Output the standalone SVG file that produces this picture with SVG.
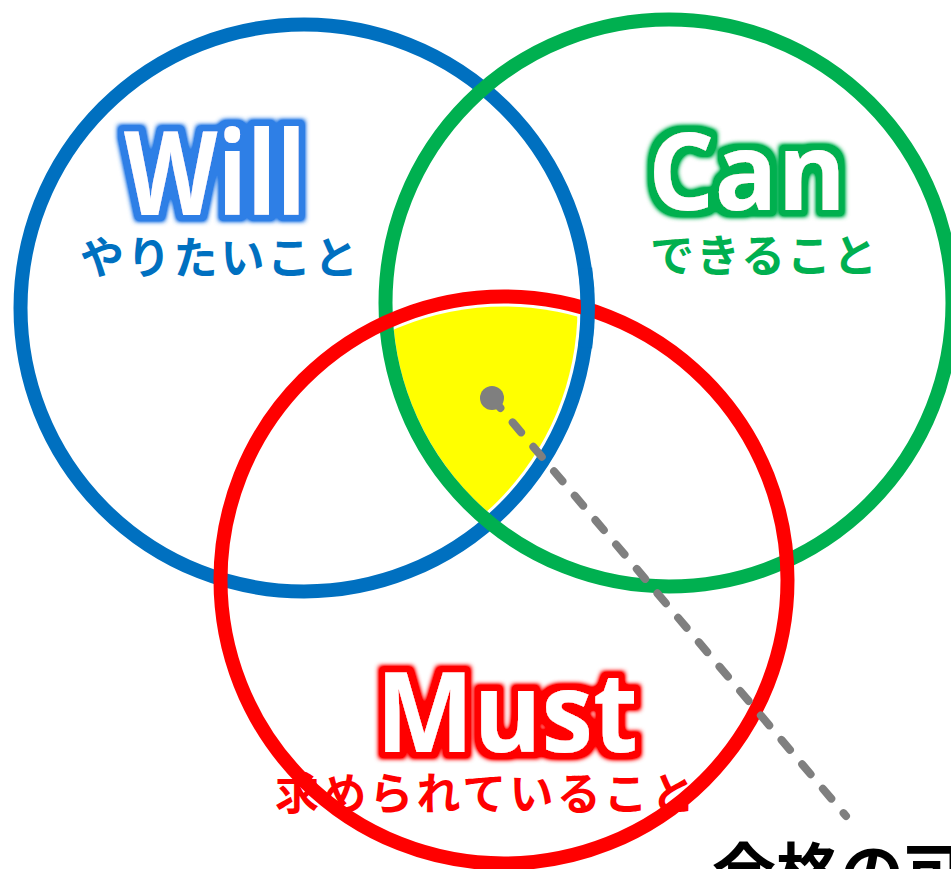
<svg xmlns="http://www.w3.org/2000/svg" width="951" height="869" viewBox="0 0 951 869">
<style>
.ring{fill:none;stroke-width:14}
.big{font-family:"Open Sans","Liberation Sans",sans-serif;font-weight:700;fill:#FFFFFF}
.jp{font-family:"Noto Sans CJK JP","Noto Sans",sans-serif;font-weight:700}
</style>
<defs>
<clipPath id="cB"><circle cx="304" cy="308" r="273.5"/></clipPath>
<clipPath id="cG"><circle cx="669" cy="303" r="276.5"/></clipPath>
<clipPath id="cR"><circle cx="504" cy="580" r="273.5"/></clipPath>
<filter id="glowB" x="-20%" y="-40%" width="140%" height="180%">
<feMorphology in="SourceAlpha" operator="dilate" radius="6" result="d"/>
<feGaussianBlur in="d" stdDeviation="2.5" result="b"/>
<feComponentTransfer in="b" result="b2"><feFuncA type="linear" slope="2"/></feComponentTransfer>
<feFlood flood-color="#2E7FE6"/>
<feComposite in2="b2" operator="in" result="g"/>
<feMerge><feMergeNode in="g"/><feMergeNode in="SourceGraphic"/></feMerge>
</filter>
<filter id="glowG" x="-20%" y="-40%" width="140%" height="180%">
<feMorphology in="SourceAlpha" operator="dilate" radius="6" result="d"/>
<feGaussianBlur in="d" stdDeviation="2.5" result="b"/>
<feComponentTransfer in="b" result="b2"><feFuncA type="linear" slope="2"/></feComponentTransfer>
<feFlood flood-color="#00B050"/>
<feComposite in2="b2" operator="in" result="g"/>
<feMerge><feMergeNode in="g"/><feMergeNode in="SourceGraphic"/></feMerge>
</filter>
<filter id="glowR" x="-20%" y="-40%" width="140%" height="180%">
<feMorphology in="SourceAlpha" operator="dilate" radius="6" result="d"/>
<feGaussianBlur in="d" stdDeviation="2.5" result="b"/>
<feComponentTransfer in="b" result="b2"><feFuncA type="linear" slope="2"/></feComponentTransfer>
<feFlood flood-color="#FF0000"/>
<feComposite in2="b2" operator="in" result="g"/>
<feMerge><feMergeNode in="g"/><feMergeNode in="SourceGraphic"/></feMerge>
</filter>
</defs>
<rect width="951" height="869" fill="#FFFFFF"/>
<g id="overlap">
<g clip-path="url(#cB)"><g clip-path="url(#cG)"><g clip-path="url(#cR)"><rect x="300" y="250" width="350" height="330" fill="#FFFF00"/></g></g></g>
</g>
<g id="will">
<circle class="ring" cx="304" cy="308" r="283.5" stroke="#0070C0"/>
</g>
<g id="can">
<circle class="ring" cx="669" cy="303" r="283.5" stroke="#00B050"/>
</g>
<g id="must">
<circle class="ring" cx="504" cy="580" r="283.5" stroke="#FF0000"/>
</g>
<path d="M 585.2 268.5 A 283.5 283.5 0 0 1 585.2 347.5" class="ring" stroke="#0070C0"/>
<g id="labels">
<text class="big" x="124" y="215" font-size="116" textLength="182" lengthAdjust="spacingAndGlyphs" filter="url(#glowB)">Will</text>
<text class="jp" x="80" y="274" font-size="44" fill="#0070C0" textLength="278" lengthAdjust="spacing">やりたいこと</text>
<text class="big" x="648" y="210" font-size="108" textLength="198" lengthAdjust="spacingAndGlyphs" filter="url(#glowG)">Can</text>
<text class="jp" x="650" y="272" font-size="44" fill="#00B050" textLength="227" lengthAdjust="spacing">できること</text>
<text class="big" x="376" y="752" font-size="112" textLength="262" lengthAdjust="spacingAndGlyphs" filter="url(#glowR)">Must</text>
<text class="jp" x="275" y="810" font-size="44" fill="#FF0000" textLength="420" lengthAdjust="spacing">求められていること</text>
</g>
<g id="connectors">
<line x1="492" y1="398" x2="846" y2="816" stroke="#7F7F7F" stroke-width="8" stroke-linecap="round" stroke-dasharray="13 19"/>
<circle cx="492" cy="398" r="12" fill="#7F7F7F"/>
</g>
<g id="callout">
<text class="jp" x="712" y="896" font-size="64" fill="#000000">合格の可</text>
</g>
</svg>
